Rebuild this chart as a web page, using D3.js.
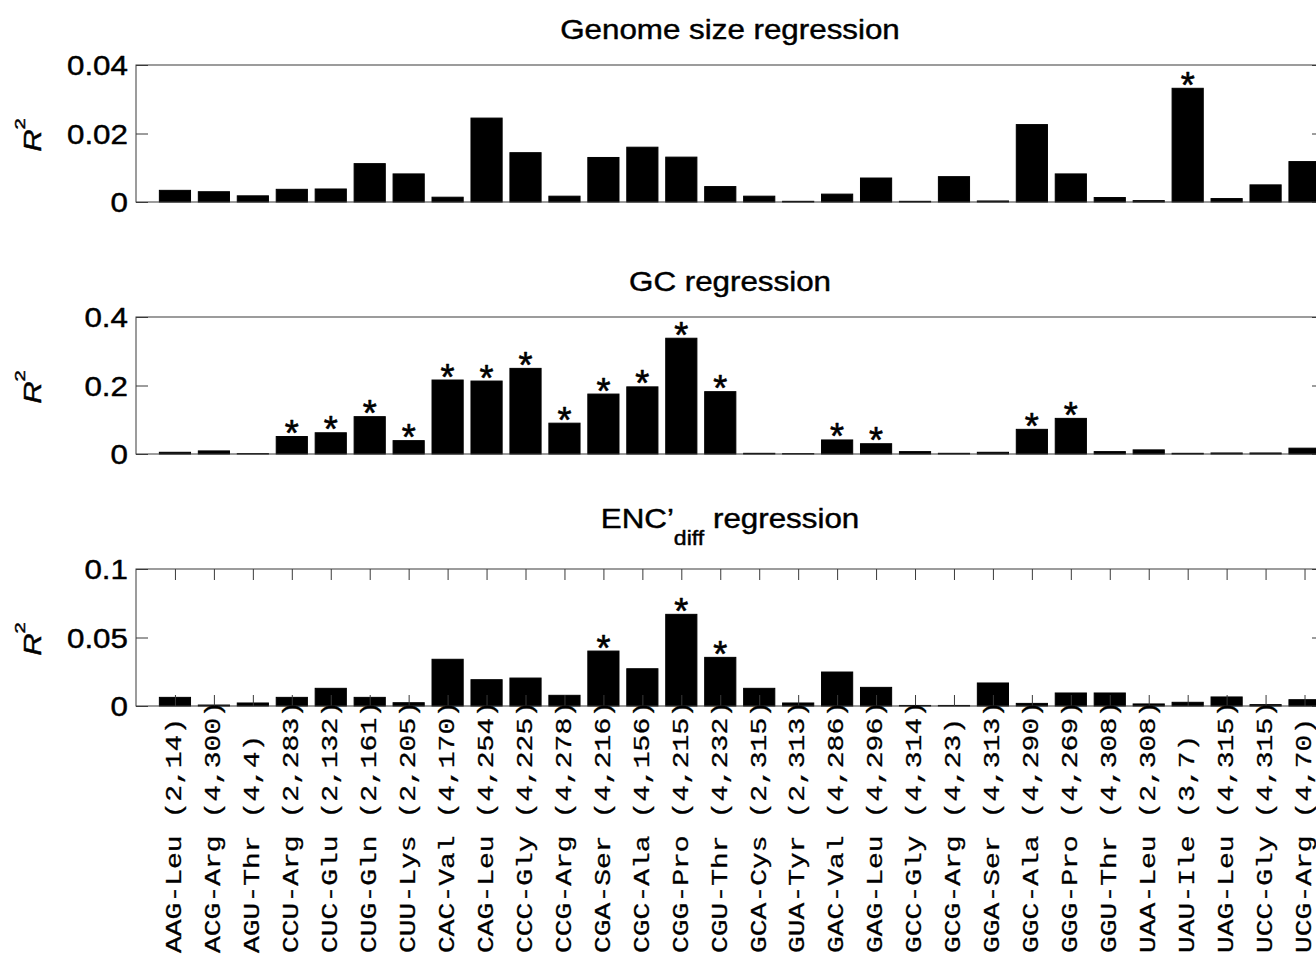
<!DOCTYPE html>
<html>
<head>
<meta charset="utf-8">
<script src="https://cdn.jsdelivr.net/npm/d3@7"></script>
<style>
  html, body { margin: 0; padding: 0; background: #fff; }
  svg { display: block; }
</style>
</head>
<body>
<svg id="chart" width="1316" height="954"></svg>
<script>
// ---------------- DATA ----------------
const categories = [
  "AAG-Leu (2,14)", "ACG-Arg (4,300)", "AGU-Thr (4,4)", "CCU-Arg (2,283)", "CUC-Glu (2,132)",
  "CUG-Gln (2,161)", "CUU-Lys (2,205)", "CAC-Val (4,170)", "CAG-Leu (4,254)", "CCC-Gly (4,225)",
  "CCG-Arg (4,278)", "CGA-Ser (4,216)", "CGC-Ala (4,156)", "CGG-Pro (4,215)", "CGU-Thr (4,232)",
  "GCA-Cys (2,315)", "GUA-Tyr (2,313)", "GAC-Val (4,286)", "GAG-Leu (4,296)", "GCC-Gly (4,314)",
  "GCG-Arg (4,23)", "GGA-Ser (4,313)", "GGC-Ala (4,290)", "GGG-Pro (4,269)", "GGU-Thr (4,308)",
  "UAA-Leu (2,308)", "UAU-Ile (3,7)", "UAG-Leu (4,315)", "UCC-Gly (4,315)", "UCG-Arg (4,70)"
];

const genomeValues = [
  0.0034, 0.0030, 0.0018, 0.0037, 0.0038, 0.0112, 0.0082, 0.0014, 0.0245, 0.0144,
  0.0017, 0.0130, 0.0160, 0.0131, 0.0045, 0.0017, 0.0002, 0.0023, 0.0070, 0.0002,
  0.0074, 0.0003, 0.0226, 0.0082, 0.0013, 0.0004, 0.0332, 0.0010, 0.0050, 0.0118
];
const gcValues = [
  0.005, 0.009, 0.001, 0.051, 0.062, 0.109, 0.039, 0.216, 0.213, 0.250,
  0.090, 0.175, 0.196, 0.338, 0.182, 0.002, 0.001, 0.041, 0.030, 0.007,
  0.002, 0.005, 0.072, 0.104, 0.007, 0.012, 0.002, 0.003, 0.003, 0.017
];
const encValues = [
  0.0063, 0.0007, 0.0022, 0.0063, 0.0129, 0.0063, 0.0024, 0.0341, 0.0192, 0.0204,
  0.0078, 0.0401, 0.0272, 0.0669, 0.0355, 0.0129, 0.0022, 0.0248, 0.0136, 0.0004,
  0.0004, 0.0168, 0.0019, 0.0095, 0.0095, 0.0015, 0.0027, 0.0066, 0.0010, 0.0046
];

// indices of bars marked significant (*)
const genomeStars = [26];
const gcStars = [3, 4, 5, 6, 7, 8, 9, 10, 11, 12, 13, 14, 17, 18, 22, 23];
const encStars = [11, 13, 14];

const genomeTicks = [0, 0.02, 0.04];
const genomeTickLabels = ["0", "0.02", "0.04"];
const gcTicks = [0, 0.2, 0.4];
const gcTickLabels = ["0", "0.2", "0.4"];
const encTicks = [0, 0.05, 0.1];
const encTickLabels = ["0", "0.05", "0.1"];

// ---------------- LAYOUT ----------------
const svg = d3.select("#chart");
svg.append("rect").attr("width", 1316).attr("height", 954).attr("fill", "#fff");

const plotLeft = 136, plotRight = 1324;
const x = d3.scaleLinear().domain([0, 30.5]).range([plotLeft, plotRight]);
const step = x(1) - x(0);
const barW = 0.8 * step;

const SANS = "'Liberation Sans', Arial, Helvetica, sans-serif";
const MONO = "'Liberation Mono', 'Courier New', monospace";
const AXIS_COLOR = "#3a3a3a";
const STRETCH = 1.1;
const FS = 28.5;

function heavy(sel, w) {
  sel.attr("stroke", "#000").attr("stroke-width", w).attr("stroke-linejoin", "round");
}

const panels = [
  { title: [{ t: "Genome size regression" }], titleY: 38.5, top: 65, bottom: 202,
    values: genomeValues, stars: genomeStars, ticks: genomeTicks, tickLabels: genomeTickLabels, max: 0.04, xticks: false },
  { title: [{ t: "GC regression" }], titleY: 290.5, top: 317, bottom: 454,
    values: gcValues, stars: gcStars, ticks: gcTicks, tickLabels: gcTickLabels, max: 0.4, xticks: false },
  { title: [{ t: "ENC\u2019" }, { t: "diff", sub: true }, { t: " regression", after: true }], titleY: 528, top: 569, bottom: 706,
    values: encValues, stars: encStars, ticks: encTicks, tickLabels: encTickLabels, max: 0.1, xticks: true }
];

function stretchText(sel, f) {
  sel.each(function () {
    const len = this.getComputedTextLength();
    d3.select(this).attr("textLength", len * f).attr("lengthAdjust", "spacingAndGlyphs");
  });
}

panels.forEach(p => {
  const y = d3.scaleLinear().domain([0, p.max]).range([p.bottom, p.top]);
  const g = svg.append("g");

  // title
  const tg = g.append("g").attr("transform", `translate(${(plotLeft + plotRight) / 2},${p.titleY}) scale(${STRETCH},1)`);
  const tt = tg.append("text").attr("text-anchor", "middle")
    .attr("font-family", SANS).attr("font-size", FS).attr("fill", "#000");
  heavy(tt, 0.45);
  p.title.forEach(part => {
    const ts = tt.append("tspan").text(part.t);
    if (part.sub) ts.attr("font-size", 21).attr("dy", 17);
    if (part.after) ts.attr("dy", -17);
  });

  // bars
  g.append("g").selectAll("rect").data(p.values).join("rect")
    .attr("x", (d, i) => x(i + 1) - barW / 2)
    .attr("width", barW)
    .attr("y", d => y(d))
    .attr("height", d => y(0) - y(d))
    .attr("fill", "#000")
    .attr("stroke", "#000")
    .attr("stroke-width", 1);

  // significance stars
  const st = g.append("g").selectAll("g").data(p.stars).join("g")
    .attr("transform", i => `translate(${x(i + 1)},${y(p.values[i]) + 9.5})`)
    .append("text")
    .attr("text-anchor", "middle")
    .attr("font-family", SANS).attr("font-size", 36).attr("fill", "#000")
    .text("*");
  heavy(st, 0.6);

  // box
  g.append("rect")
    .attr("x", plotLeft).attr("y", p.top)
    .attr("width", plotRight - plotLeft).attr("height", p.bottom - p.top)
    .attr("fill", "none").attr("stroke", AXIS_COLOR).attr("stroke-width", 1);

  // left axis (inward ticks)
  const yl = g.append("g").attr("transform", `translate(${plotLeft},0)`)
    .call(d3.axisLeft(y).tickValues(p.ticks).tickSize(-12).tickPadding(8)
      .tickFormat((d, i) => p.tickLabels[i]));
  yl.select(".domain").remove();
  yl.selectAll(".tick line").attr("stroke", AXIS_COLOR);
  const ytl = yl.selectAll(".tick text").attr("font-family", SANS).attr("font-size", FS)
    .attr("fill", "#000").attr("dy", "0.35em");
  heavy(ytl, 0.45);
  stretchText(ytl, STRETCH);

  // right axis (inward ticks, no labels)
  const yr = g.append("g").attr("transform", `translate(${plotRight},0)`)
    .call(d3.axisRight(y).tickValues(p.ticks).tickSize(-12).tickFormat(""));
  yr.select(".domain").remove();
  yr.selectAll(".tick line").attr("stroke", AXIS_COLOR);

  if (p.xticks) {
    const idx = d3.range(1, categories.length + 1);
    const xb = g.append("g").attr("transform", `translate(0,${p.bottom})`)
      .call(d3.axisBottom(x).tickValues(idx).tickSize(-11).tickFormat(""));
    xb.select(".domain").remove();
    xb.selectAll(".tick line").attr("stroke", AXIS_COLOR);
    const xt = g.append("g").attr("transform", `translate(0,${p.top})`)
      .call(d3.axisTop(x).tickValues(idx).tickSize(-11).tickFormat(""));
    xt.select(".domain").remove();
    xt.selectAll(".tick line").attr("stroke", AXIS_COLOR);

    // rotated category labels (monospace, reading upward)
    const cl = g.append("g").selectAll("text").data(categories).join("text")
      .attr("transform", (d, i) => `translate(${x(i + 1) + 6.3},953) rotate(-90)`)
      .attr("text-anchor", "start")
      .attr("font-family", MONO).attr("font-size", 22).attr("fill", "#000")
      .attr("textLength", d => d.length * 16.8)
      .attr("lengthAdjust", "spacingAndGlyphs")
      .text(d => d);
    heavy(cl, 0.3);
  }

  // y label R^2
  const mid = (p.top + p.bottom) / 2 + 1.5;
  const yg = g.append("g").attr("transform", `translate(41,${mid}) rotate(-90) scale(1.35,1)`);
  const ylab = yg.append("text").attr("text-anchor", "middle")
    .attr("font-family", SANS).attr("font-size", 23).attr("fill", "#000");
  heavy(ylab, 0.45);
  ylab.append("tspan").attr("font-style", "italic").text("R");
  ylab.append("tspan").attr("font-size", 15).attr("dy", -16).text("2");
});
</script>
</body>
</html>
